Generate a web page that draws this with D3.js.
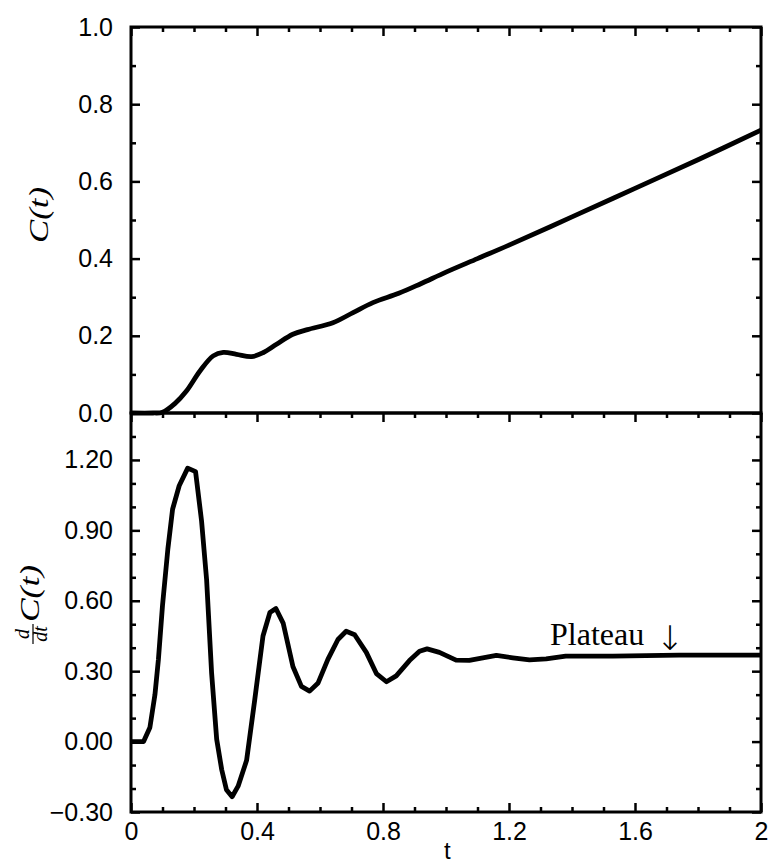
<!DOCTYPE html>
<html>
<head>
<meta charset="utf-8">
<script src="https://cdn.jsdelivr.net/npm/d3@7"></script>
<style>
	body { margin: 0; background: #fff; }
	svg { display: block; }
</style>
</head>
<body>
<div id="chart"></div>
<script>
// C(t)
const t_top = [0, 0.07, 0.10, 0.14, 0.176, 0.219, 0.261, 0.293, 0.335, 0.383, 0.419, 0.462, 0.514, 0.56, 0.641, 0.705, 0.768, 0.85, 0.92, 1.0, 1.1, 1.2, 1.4, 1.6, 1.8, 2.0];
const c_values = [0, 0, 0.002, 0.025, 0.057, 0.109, 0.148, 0.157, 0.152, 0.146, 0.156, 0.178, 0.204, 0.216, 0.234, 0.26, 0.286, 0.31, 0.335, 0.365, 0.4, 0.435, 0.508, 0.582, 0.656, 0.733];

// dC/dt
const t_bottom = [0, 0.04, 0.06, 0.076, 0.087, 0.10, 0.117, 0.132, 0.153, 0.18, 0.205, 0.224, 0.24, 0.256, 0.272, 0.288, 0.303, 0.321, 0.34, 0.367, 0.393, 0.419, 0.441, 0.46, 0.483, 0.514, 0.541, 0.567, 0.594, 0.625, 0.657, 0.683, 0.71, 0.747, 0.779, 0.811, 0.842, 0.884, 0.916, 0.94, 0.979, 1.032, 1.074, 1.16, 1.212, 1.265, 1.318, 1.38, 1.53, 1.74, 2.0];
const dc_values = [0, 0, 0.06, 0.2, 0.35, 0.58, 0.82, 0.99, 1.09, 1.165, 1.15, 0.94, 0.69, 0.29, 0.01, -0.12, -0.205, -0.235, -0.19, -0.08, 0.18, 0.45, 0.55, 0.567, 0.505, 0.32, 0.235, 0.215, 0.25, 0.35, 0.435, 0.47, 0.455, 0.38, 0.29, 0.255, 0.28, 0.345, 0.385, 0.395, 0.38, 0.347, 0.346, 0.367, 0.357, 0.348, 0.352, 0.364, 0.364, 0.368, 0.368];

// ticks
const x_major = [0, 0.4, 0.8, 1.2, 1.6, 2];
const x_labels = ["0", "0.4", "0.8", "1.2", "1.6", "2"];
const x_minor = [0.1, 0.2, 0.3, 0.5, 0.6, 0.7, 0.9, 1.0, 1.1, 1.3, 1.4, 1.5, 1.7, 1.8, 1.9];
const top_major = [0, 0.2, 0.4, 0.6, 0.8, 1.0];
const top_minor = [0.1, 0.3, 0.5, 0.7, 0.9];
const bottom_major = [-0.3, 0, 0.3, 0.6, 0.9, 1.2];
const bottom_minor = [-0.2, -0.1, 0.1, 0.2, 0.4, 0.5, 0.7, 0.8, 1.0, 1.1, 1.3];

const width = 770;
const height = 865;

const left = 131, right = 761;
const top_y = 27, mid_y = 413, bottom_y = 812;

const tick_font = "'Liberation Sans', Arial, Helvetica, sans-serif";
const serif_font = "'Liberation Serif', 'Times New Roman', serif";

let svg = d3.select("#chart")
	.append("svg")
	.attr("width", width)
	.attr("height", height);

let x = d3.scaleLinear().domain([0, 2]).range([left, right]);
let y_top = d3.scaleLinear().domain([0, 1]).range([mid_y, top_y]);
let y_bottom = d3.scaleLinear().domain([-0.3, 1.4]).range([bottom_y, mid_y]);

function style_axis(g){
	g.select(".domain").remove();
	g.selectAll(".tick line")
		.attr("stroke", "#000")
		.attr("stroke-width", 2.5);
	g.selectAll(".tick text")
		.attr("fill", "#000")
		.style("font-family", tick_font)
		.style("font-size", "25px");
}

function add_axis(axis, tx, ty){
	svg.append("g")
		.attr("transform", "translate(" + tx + "," + ty + ")")
		.call(axis)
		.call(style_axis);
}

const major_len = 9;
const minor_len = 5;
const no_label = () => "";

// x ticks: top edge, shared middle edge, bottom edge (all pointing inward / down into lower panel)
add_axis(d3.axisTop(x).tickValues(x_major).tickSize(-major_len).tickFormat(no_label), 0, top_y);
add_axis(d3.axisTop(x).tickValues(x_minor).tickSize(-minor_len).tickFormat(no_label), 0, top_y);
add_axis(d3.axisBottom(x).tickValues(x_major).tickSize(major_len).tickFormat(no_label), 0, mid_y);
add_axis(d3.axisBottom(x).tickValues(x_minor).tickSize(minor_len).tickFormat(no_label), 0, mid_y);
add_axis(d3.axisBottom(x).tickValues(x_major).tickSize(-major_len).tickPadding(10)
	.tickFormat((d, i) => x_labels[i]), 0, bottom_y);
add_axis(d3.axisBottom(x).tickValues(x_minor).tickSize(-minor_len).tickFormat(no_label), 0, bottom_y);

// y ticks top panel
add_axis(d3.axisLeft(y_top).tickValues(top_major).tickSize(-major_len).tickPadding(18)
	.tickFormat(d3.format(".1f")), left, 0);
add_axis(d3.axisLeft(y_top).tickValues(top_minor).tickSize(-minor_len).tickFormat(no_label), left, 0);
add_axis(d3.axisRight(y_top).tickValues(top_major).tickSize(-major_len).tickFormat(no_label), right, 0);
add_axis(d3.axisRight(y_top).tickValues(top_minor).tickSize(-minor_len).tickFormat(no_label), right, 0);

// y ticks bottom panel (top value 1.4 is the shared edge, so no label there)
add_axis(d3.axisLeft(y_bottom).tickValues(bottom_major).tickSize(-major_len).tickPadding(18)
	.tickFormat(d => d3.format(".2f")(d).replace("-", "\u2212")), left, 0);
add_axis(d3.axisLeft(y_bottom).tickValues(bottom_minor).tickSize(-minor_len).tickFormat(no_label), left, 0);
add_axis(d3.axisRight(y_bottom).tickValues(bottom_major).tickSize(-major_len).tickFormat(no_label), right, 0);
add_axis(d3.axisRight(y_bottom).tickValues(bottom_minor).tickSize(-minor_len).tickFormat(no_label), right, 0);

// frames
svg.append("rect")
	.attr("x", left).attr("y", top_y)
	.attr("width", right - left).attr("height", mid_y - top_y)
	.attr("fill", "none").attr("stroke", "#000").attr("stroke-width", 3);
svg.append("rect")
	.attr("x", left).attr("y", mid_y)
	.attr("width", right - left).attr("height", bottom_y - mid_y)
	.attr("fill", "none").attr("stroke", "#000").attr("stroke-width", 3);

// curves
let top_line = d3.line()
	.x((d, i) => x(t_top[i]))
	.y(d => y_top(d))
	.curve(d3.curveCatmullRom);

svg.append("path")
	.attr("d", top_line(c_values))
	.attr("fill", "none")
	.attr("stroke", "#000")
	.attr("stroke-width", 4.8)
	.attr("stroke-linejoin", "round");

let bottom_line = d3.line()
	.x((d, i) => x(t_bottom[i]))
	.y(d => y_bottom(d));

svg.append("path")
	.attr("d", bottom_line(dc_values))
	.attr("fill", "none")
	.attr("stroke", "#000")
	.attr("stroke-width", 4.8)
	.attr("stroke-linejoin", "round");

// axis titles
svg.append("text")
	.attr("x", x(1.004))
	.attr("y", 859)
	.attr("text-anchor", "middle")
	.style("font-family", tick_font)
	.style("font-size", "24px")
	.text("t");

let c_label = svg.append("g")
	.attr("transform", "translate(41,215) rotate(-90)");
c_label.append("text")
	.attr("x", 0).attr("y", 7)
	.attr("text-anchor", "middle")
	.attr("textLength", 56)
	.attr("lengthAdjust", "spacingAndGlyphs")
	.style("font-family", serif_font)
	.style("font-style", "italic")
	.style("font-size", "28px")
	.text("C(t)");

let dc_label = svg.append("g")
	.attr("transform", "translate(30,603) rotate(-90)");
dc_label.append("text")
	.attr("x", -31).attr("y", -1)
	.attr("text-anchor", "middle")
	.style("font-family", serif_font)
	.style("font-style", "italic")
	.style("font-size", "20px")
	.text("d");
dc_label.append("line")
	.attr("x1", -41).attr("x2", -21)
	.attr("y1", 3).attr("y2", 3)
	.attr("stroke", "#000")
	.attr("stroke-width", 1.2);
dc_label.append("text")
	.attr("x", -31).attr("y", 17)
	.attr("text-anchor", "middle")
	.style("font-family", serif_font)
	.style("font-style", "italic")
	.style("font-size", "20px")
	.text("dt");
dc_label.append("text")
	.attr("x", -19).attr("y", 9)
	.attr("textLength", 57)
	.attr("lengthAdjust", "spacingAndGlyphs")
	.style("font-family", serif_font)
	.style("font-style", "italic")
	.style("font-size", "28px")
	.text("C(t)");

// annotation
svg.append("text")
	.attr("x", 550).attr("y", 645)
	.attr("fill", "#000")
	.style("font-family", serif_font)
	.style("font-size", "32px")
	.text("Plateau");
svg.append("text")
	.attr("x", 670).attr("y", 650)
	.attr("text-anchor", "middle")
	.attr("fill", "#000")
	.style("font-family", "'DejaVu Sans'")
	.style("font-size", "34px")
	.style("font-weight", "300")
	.text("\u2193\uFE0E");
</script>
</body>
</html>
